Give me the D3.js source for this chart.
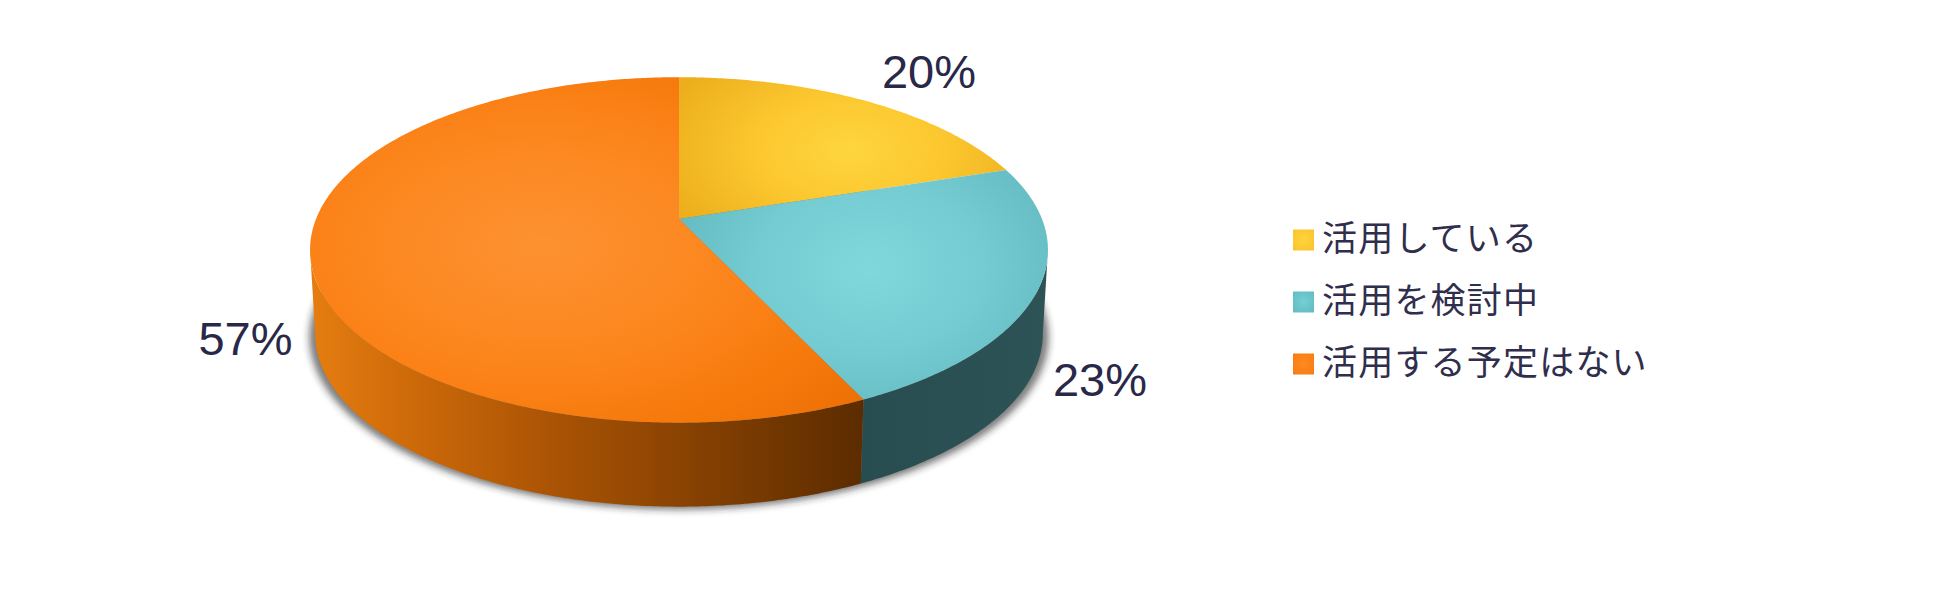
<!DOCTYPE html>
<html><head><meta charset="utf-8">
<script src="https://cdnjs.cloudflare.com/ajax/libs/d3/7.8.5/d3.min.js"></script>
<style>html,body{margin:0;padding:0;background:#fff}svg{display:block}</style></head>
<body><svg id="c" width="1950" height="604"></svg>
<script>
const categories = ["活用している","活用を検討中","活用する予定はない"];
const values = [20,23,57];
const tickLabels = ["20%","23%","57%"];

const svg = d3.select("#c");
const defs = svg.append("defs");
const cx=679, cy=219, B=363, A=167.2, k=0.179, depth=84, bottomScale=0.986;
const sx=d3.scaleLinear().domain([-1,1]).range([cx-B,cx+B]);
const sy=d3.scaleLinear().domain([-1,1]).range([cy-A,cy+A]);
const sxB=d3.scaleLinear().domain([-1,1]).range([cx-B*bottomScale,cx+B*bottomScale]);
const pie=d3.pie().sort(null).value(d=>d)(values);
function proj(t,xs=sx,dy=0){const u=Math.sin(t),v=-Math.cos(t),w=1-k*v;return [xs(u/w),sy(v/w)+dy];}
function arcPts(a0,a1,xs,dy){const n=Math.max(4,Math.ceil(Math.abs(a1-a0)/0.01));
  return d3.range(n+1).map(i=>proj(a0+(a1-a0)*i/n,xs,dy));}
const line=d3.line().curve(d3.curveLinearClosed);
const front0=Math.acos(-k), front1=2*Math.PI-front0;

function radial(id,c,r,stops,fx){const g=defs.append("radialGradient").attr("id",id).attr("gradientUnits","userSpaceOnUse")
  .attr("cx",c[0]).attr("cy",c[1]).attr("r",r).attr("gradientTransform",`translate(${c[0]} ${c[1]}) scale(1 ${fx}) translate(${-c[0]} ${-c[1]})`);
  stops.forEach(s=>g.append("stop").attr("offset",s[0]).attr("stop-color",s[1]));}
radial("gy",[850,150],200,[[0,"#fed53e"],[0.45,"#fcc830"],[1,"#ecae1c"]],0.6);
radial("gt",[870,268],230,[[0,"#80d8dc"],[0.5,"#74ccd2"],[1,"#5fb6bc"]],0.75);
radial("go",[540,245],440,[[0,"#fd9130"],[0.3,"#fc8a24"],[0.55,"#fb8116"],[0.7,"#f67a0c"],[1,"#ec6e04"]],0.6);
const faceFill=["url(#gy)","url(#gt)","url(#go)"];

const sg=defs.append("linearGradient").attr("id","so").attr("gradientUnits","userSpaceOnUse")
  .attr("x1",cx-B).attr("x2",proj(pie[1].endAngle)[0]).attr("y1",0).attr("y2",0);
[[0,"#e47c10"],[0.15,"#d06c0a"],[0.45,"#a85204"],[0.75,"#7e3d01"],[1,"#5c2c00"]].forEach(s=>sg.append("stop").attr("offset",s[0]).attr("stop-color",s[1]));
const sgt=defs.append("linearGradient").attr("id","st");
[[0,"#284d50"],[1,"#2d5356"]].forEach(s=>sgt.append("stop").attr("offset",s[0]).attr("stop-color",s[1]));
const sideFill=[null,"url(#st)","url(#so)"];

const blur=defs.append("filter").attr("id","sh").attr("x","-10%").attr("y","-10%").attr("width","120%").attr("height","120%");
blur.append("feGaussianBlur").attr("stdDeviation",3.5);

// shadow
svg.append("path").attr("d",line(arcPts(0,2*Math.PI,sx,depth+3).map(p=>[cx+(p[0]-cx)*1.002,p[1]])))
  .attr("fill","#2a2a2a").attr("fill-opacity",.6).attr("filter","url(#sh)");

// sides
pie.forEach((d,i)=>{const a0=Math.max(d.startAngle,front0),a1=Math.min(d.endAngle,front1);
  if(a1<=a0)return;
  const top=arcPts(a0,a1,sx,0),bot=arcPts(a1,a0,sxB,depth);
  svg.append("path").attr("d",line(top.concat(bot))).attr("fill",sideFill[i]);});

// top faces
pie.forEach((d,i)=>{const pts=[[cx,cy]].concat(arcPts(d.startAngle,d.endAngle,sx,0));
  svg.append("path").attr("d",line(pts)).attr("fill",faceFill[i]);});

// percent labels
const labelAnchors=[[929,88],[1100,396],[245.5,355]];
tickLabels.forEach((t,i)=>svg.append("text").attr("x",labelAnchors[i][0]).attr("y",labelAnchors[i][1])
  .attr("text-anchor","middle").attr("font-family","Liberation Sans").attr("font-size",47)
  .attr("fill","#2a2848").text(t));

// legend
const legY=d3.scalePoint().domain(categories).range([239.5,363.5]);
const lg=[["#fed53e","#fcc22c"],["#74d0d6","#62bcc2"],["#fd8a20","#f87c12"]];
categories.forEach((c,i)=>{const y=legY(c);
  radial("l"+i,[1303.5,y],14,[[0,lg[i][0]],[1,lg[i][1]]],1);
  svg.append("rect").attr("x",1293).attr("y",y-10).attr("width",21).attr("height",21).attr("fill",`url(#l${i})`);
  svg.append("text").attr("x",1322).attr("y",y+11).attr("font-family","Noto Sans CJK JP").attr("font-weight",400)
    .attr("font-size",35).attr("letter-spacing",1.2).attr("fill","#2f2e4c").text(c);});
</script></body></html>
